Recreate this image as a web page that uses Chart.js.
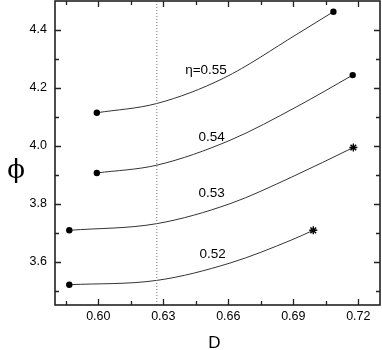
<!DOCTYPE html>
<html>
<head>
<meta charset="utf-8">
<script src="https://cdn.jsdelivr.net/npm/chart.js@4/dist/chart.umd.min.js"></script>
<style>
  html, body { margin: 0; padding: 0; background: #fff; }
  #wrap { width: 382px; height: 350px; position: relative; }
</style>
</head>
<body>
<div id="wrap"><canvas id="phiChart"></canvas></div>
<script>
// ---- data ----
const d55   = [0.5993, 0.6270, 0.6577, 0.6916, 0.7085];
const phi55 = [4.114, 4.146, 4.233, 4.385, 4.463];

const d54   = [0.5993, 0.6270, 0.6608, 0.6916, 0.7174];
const phi54 = [3.906, 3.933, 4.019, 4.135, 4.244];

const d53   = [0.5866, 0.6270, 0.6608, 0.6893, 0.7177];
const phi53 = [3.708, 3.731, 3.800, 3.892, 3.994];

const d52   = [0.5866, 0.6270, 0.6608, 0.6893, 0.6992];
const phi52 = [3.520, 3.535, 3.595, 3.675, 3.708];

const dotLineD = 0.627;

const curveLabels = ['\u03B7=0.55', '0.54', '0.53', '0.52'];
const labelD      = [0.6497, 0.6523, 0.6523, 0.6527];
const labelPhi    = [4.262, 4.031, 3.835, 3.624];

const xTicks = [0.60, 0.63, 0.66, 0.69, 0.72];
const xMinor = [0.585, 0.615, 0.645, 0.675, 0.705];
const yTicks = [3.6, 3.8, 4.0, 4.2, 4.4];
const yMinor = [3.5, 3.7, 3.9, 4.1, 4.3];

const X_MIN = 0.58, X_MAX = 0.73;
const Y_MIN = 3.45, Y_MAX = 4.5;

/* ------------------------------
   Helpers
------------------------------ */

function toPoints(xs, ys) {
  return xs.map((x, i) => ({ x, y: ys[i] }));
}

function curve(xs, ys, endStyle) {
  const last = xs.length - 1;
  const isStar = i => i === last && endStyle === 'star';
  return {
    data: toPoints(xs, ys),
    showLine: true,
    borderColor: '#333',
    borderWidth: 1,
    backgroundColor: '#000',
    pointBorderColor: '#000',
    cubicInterpolationMode: 'monotone',
    pointStyle: ctx => (ctx.dataIndex === last ? endStyle : 'circle'),
    pointRadius: ctx => (ctx.dataIndex === 0 || ctx.dataIndex === last ? (isStar(ctx.dataIndex) ? 4 : 3.2) : 0),
    pointBorderWidth: ctx => (isStar(ctx.dataIndex) ? 1.4 : 0),
    pointHoverRadius: 0
  };
}

// drop the half-label padding Chart.js reserves at the axis ends
function squeeze(s) {
  s.paddingTop = 0;
  s.paddingBottom = 0;
  s.paddingLeft = 0;
  s.paddingRight = 0;
}

// inward ticks on all four sides + frame, label text on the curves
const framePlugin = {
  id: 'frame',
  afterDatasetsDraw(chart) {
    const { ctx, scales } = chart;
    ctx.save();
    ctx.fillStyle = '#000';
    ctx.font = '13.5px "Liberation Sans", Arial, sans-serif';
    ctx.textAlign = 'center';
    ctx.textBaseline = 'middle';
    curveLabels.forEach((t, i) => {
      ctx.fillText(t, scales.x.getPixelForValue(labelD[i]), scales.y.getPixelForValue(labelPhi[i]));
    });
    ctx.restore();
  },
  afterDraw(chart) {
    const { ctx, chartArea: a, scales } = chart;
    ctx.save();
    ctx.strokeStyle = '#222';
    ctx.lineWidth = 1.3;

    const xt = (vals, len) => vals.forEach(v => {
      const px = Math.round(scales.x.getPixelForValue(v)) + 0.5;
      ctx.beginPath();
      ctx.moveTo(px, a.bottom); ctx.lineTo(px, a.bottom - len);
      ctx.moveTo(px, a.top); ctx.lineTo(px, a.top + len);
      ctx.stroke();
    });
    const yt = (vals, len) => vals.forEach(v => {
      const py = Math.round(scales.y.getPixelForValue(v)) + 0.5;
      ctx.beginPath();
      ctx.moveTo(a.left, py); ctx.lineTo(a.left + len, py);
      ctx.moveTo(a.right, py); ctx.lineTo(a.right - len, py);
      ctx.stroke();
    });
    xt(xTicks, 6); xt(xMinor, 4);
    yt(yTicks, 6); yt(yMinor, 4);

    ctx.lineWidth = 1.6;
    ctx.strokeRect(a.left, a.top, a.right - a.left, a.bottom - a.top);

    // axis titles
    ctx.fillStyle = '#000';
    ctx.textAlign = 'center';
    ctx.textBaseline = 'middle';
    ctx.font = '17px "Liberation Sans", Arial, sans-serif';
    ctx.fillText('D', (a.left + a.right) / 2 - 3, 343);
    ctx.font = '26px "DejaVu Serif", serif';
    ctx.fillText('\u03D5', 16, 171);
    ctx.restore();
  }
};

new Chart(document.getElementById('phiChart'), {
  type: 'scatter',
  data: {
    datasets: [
      {
        data: [{ x: dotLineD, y: Y_MIN }, { x: dotLineD, y: Y_MAX }],
        showLine: true,
        borderColor: '#777',
        borderWidth: 1,
        borderDash: [1, 2],
        pointRadius: 0
      },
      curve(d55, phi55, 'circle'),
      curve(d54, phi54, 'circle'),
      curve(d53, phi53, 'star'),
      curve(d52, phi52, 'star')
    ]
  },
  options: {
    responsive: true,
    maintainAspectRatio: false,
    animation: false,
    layout: { autoPadding: false, padding: { top: 1, right: 2, left: 0, bottom: 0 } },
    plugins: {
      legend: { display: false },
      tooltip: { enabled: false }
    },
    scales: {
      x: {
        type: 'linear',
        min: X_MIN,
        max: X_MAX,
        afterBuildTicks: s => { s.ticks = xTicks.map(v => ({ value: v })); },
        afterFit: s => { s.height = 45; squeeze(s); },
        grid: { display: false, drawTicks: false },
        border: { display: false },
        ticks: {
          color: '#000',
          padding: 4,
          maxRotation: 0,
          font: { family: '"Liberation Sans", Arial, sans-serif', size: 12.5 },
          callback: v => v.toFixed(2)
        }
      },
      y: {
        type: 'linear',
        min: Y_MIN,
        max: Y_MAX,
        afterBuildTicks: s => { s.ticks = yTicks.map(v => ({ value: v })); },
        afterFit: s => { s.width = 55; squeeze(s); },
        grid: { display: false, drawTicks: false },
        border: { display: false },
        ticks: {
          color: '#000',
          padding: 8,
          font: { family: '"Liberation Sans", Arial, sans-serif', size: 12.5 },
          callback: v => v.toFixed(1)
        }
      }
    }
  },
  plugins: [framePlugin]
});
</script>
</body>
</html>
